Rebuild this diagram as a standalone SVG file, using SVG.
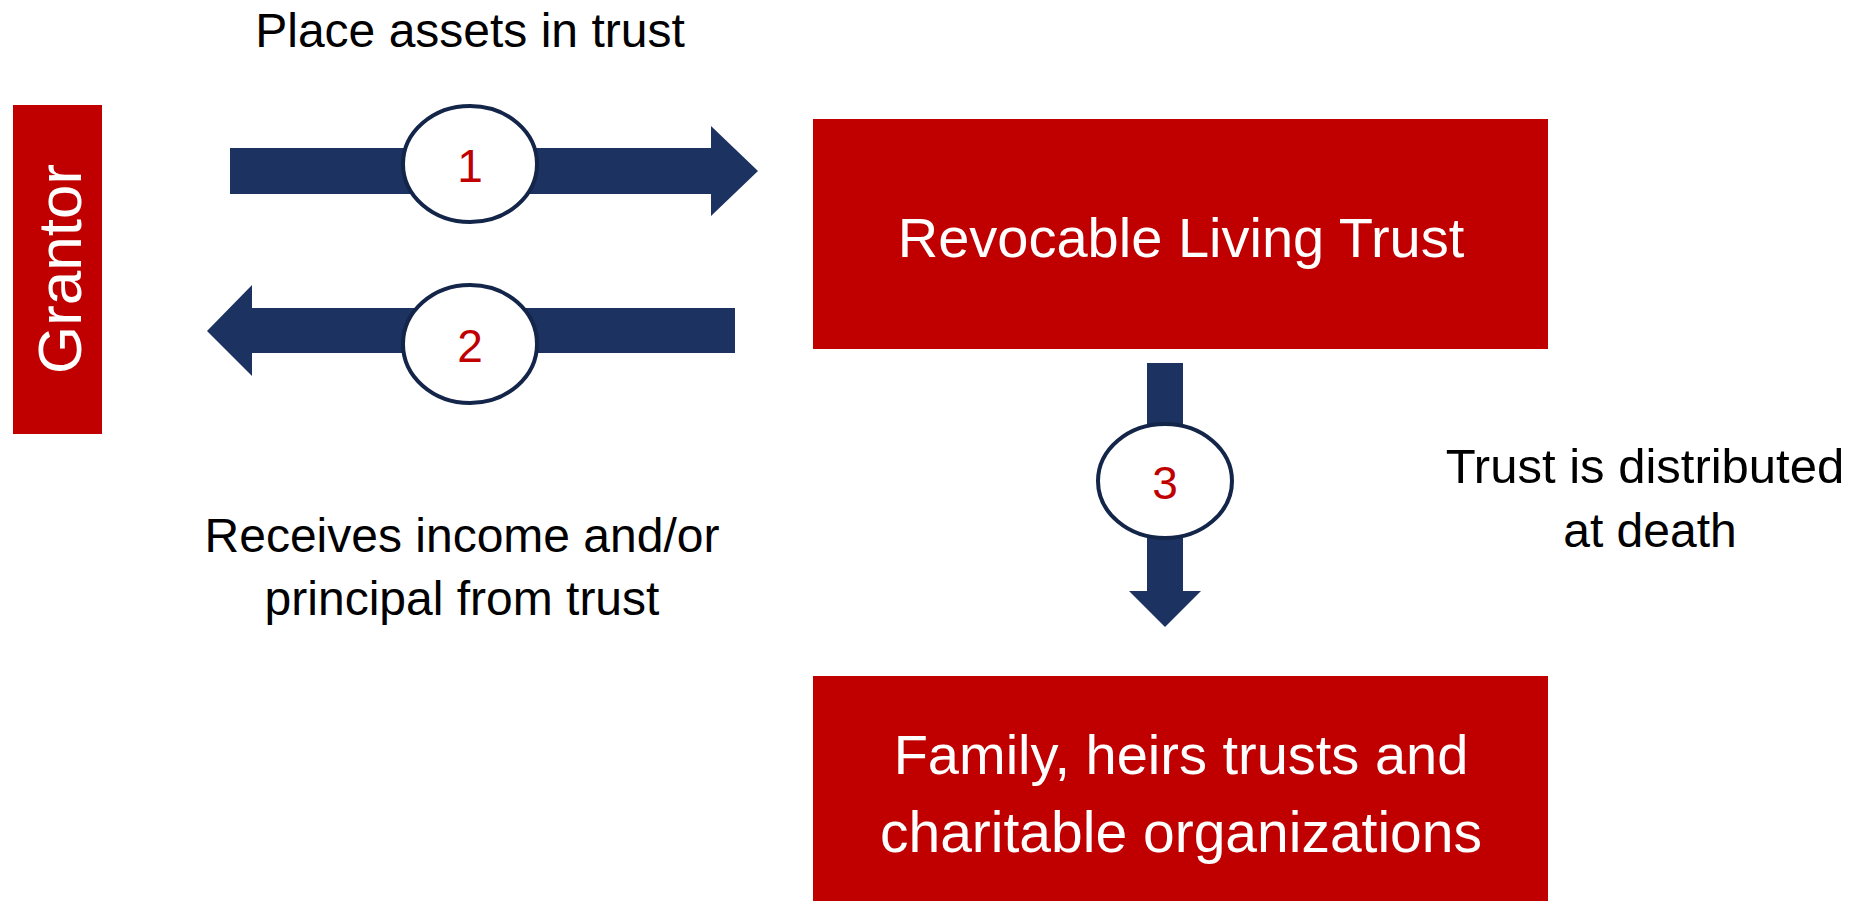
<svg xmlns="http://www.w3.org/2000/svg" width="1865" height="901" viewBox="0 0 1865 901">
  <style>
    .box { fill: #C00000; }
    .box-text { fill: #FFFFFF; font-family: "Liberation Sans", Arial, sans-serif; font-size: 56px; text-anchor: middle; }
    .note { fill: #000000; font-family: "Liberation Sans", Arial, sans-serif; font-size: 48px; text-anchor: middle; }
    .shaft { fill: #1C3260; }
    .badge { fill: #FFFFFF; stroke: #14254A; stroke-width: 4; }
    .badge-num { fill: #C00000; font-family: "Liberation Sans", Arial, sans-serif; font-size: 46px; text-anchor: middle; }
  </style>

  <rect width="1865" height="901" fill="#FFFFFF"/>

  <!-- Nodes -->
  <g id="grantor">
    <rect class="box" x="13" y="105" width="89" height="329"/>
    <text class="box-text" style="font-size:62px" transform="translate(81,269) rotate(-90)">Grantor</text>
  </g>

  <g id="revocable-living-trust">
    <rect class="box" x="813" y="119" width="735" height="230"/>
    <text class="box-text" x="1181" y="257">Revocable Living Trust</text>
  </g>

  <g id="beneficiaries">
    <rect class="box" x="813" y="676" width="735" height="225"/>
    <text class="box-text" x="1181" y="774">Family, heirs trusts and</text>
    <text class="box-text" x="1181" y="852" style="font-size:57px">charitable organizations</text>
  </g>

  <!-- Connectors: block arrows with numbered step badges -->
  <g id="connectors">
    <g id="step-1">
      <polygon class="shaft" points="230,148 711,148 711,126 758,171 711,216 711,194 230,194"/>
      <ellipse class="badge" cx="470" cy="164" rx="67" ry="58"/>
      <text class="badge-num" x="470" y="182">1</text>
    </g>
    <g id="step-2">
      <polygon class="shaft" points="735,308 252,308 252,285 207,331 252,376 252,353 735,353"/>
      <ellipse class="badge" cx="470" cy="344" rx="67" ry="59"/>
      <text class="badge-num" x="470" y="362">2</text>
    </g>
    <g id="step-3">
      <polygon class="shaft" points="1147,363 1183,363 1183,591 1201,591 1165,627 1129,591 1147,591"/>
      <ellipse class="badge" cx="1165" cy="481" rx="67" ry="57"/>
      <text class="badge-num" x="1165" y="499">3</text>
    </g>
  </g>

  <!-- Step descriptions -->
  <g id="labels">
    <text class="note" x="470" y="47">Place assets in trust</text>
    <text class="note" x="462" y="552">Receives income and/or</text>
    <text class="note" x="462" y="615">principal from trust</text>
    <text class="note" x="1645" y="483" style="font-size:49px">Trust is distributed</text>
    <text class="note" x="1650" y="547">at death</text>
  </g>
</svg>
